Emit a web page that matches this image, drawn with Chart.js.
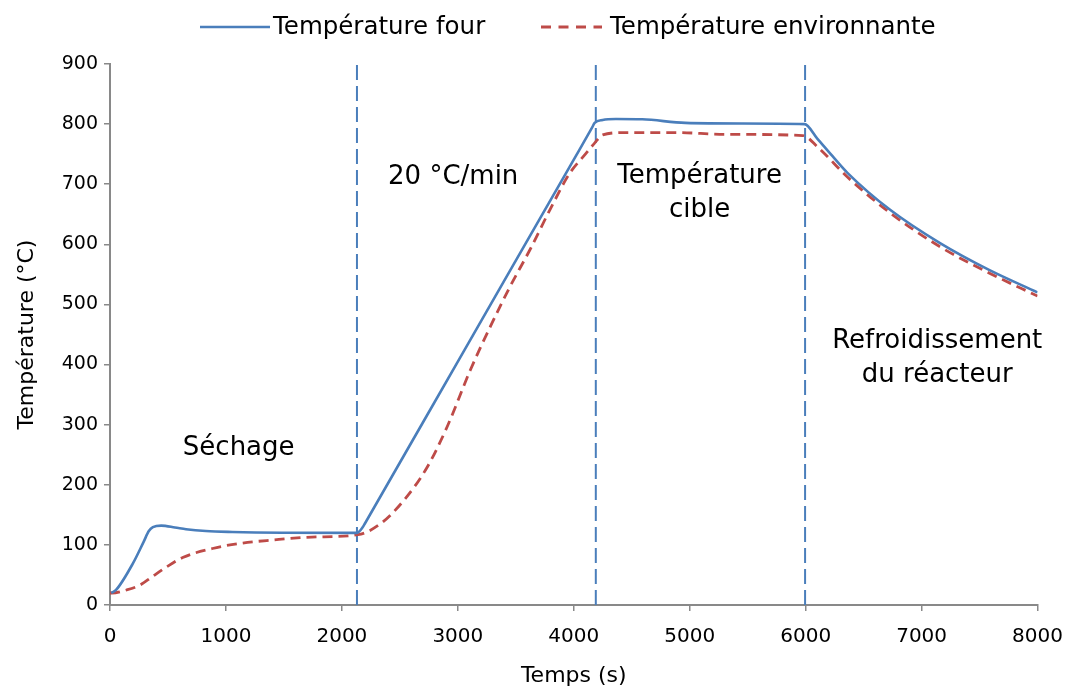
<!DOCTYPE html>
<html>
<head>
<meta charset="utf-8">
<script src="https://cdn.jsdelivr.net/npm/chart.js@4.4.1/dist/chart.umd.min.js"></script>
<style>
  html, body { margin: 0; padding: 0; background: #ffffff; }
  #wrap { width: 1077px; height: 691px; position: relative; }
</style>
</head>
<body>
<div id="wrap"><canvas id="c" width="1077" height="691"></canvas></div>
<script>
// ---- Data ----
const fourTime = [10, 52, 200, 290, 335, 370, 442, 560, 656, 827, 1055, 1483, 2130, 2182, 2200, 3000, 4000, 4160, 4180, 4249, 4363, 4591, 4962, 5447, 5990, 6100, 6230, 6360, 6731, 7159, 7586, 8000];
const fourTemp = [20, 25, 70, 105, 123, 129.5, 132, 129, 126, 123, 121.5, 120.3, 120, 130, 136, 405, 741, 795, 802, 807, 808.5, 808, 802, 801, 800, 776, 747, 719, 657, 602, 557, 520];

const envTime = [0, 15, 143, 257, 370, 485, 627, 884, 1141, 1397, 1740, 2139, 2338, 2538, 2738, 2909, 3108, 3280, 3451, 3622, 3793, 3964, 4100, 4178, 4249, 4449, 4877, 5305, 5975, 6103, 6360, 6731, 7159, 7586, 8000];
const envTemp = [20, 20, 25, 33, 48, 63, 79, 94, 103, 108, 113, 117, 136, 175, 230, 297, 391, 463, 530, 591, 657, 718, 750, 768, 782, 786, 786, 783, 781, 762, 712, 652, 596, 552, 514];

const phaseTimes = [2130, 4190, 5995];
const yRange = [0, 900];

const seriesNames = ['Température four', 'Température environnante'];
const xTitle = 'Temps (s)';
const yTitle = 'Température (°C)';

const phaseLabels = [
  { lines: ['Séchage'], x: 1110, y: 260 },
  { lines: ['20 °C/min'], x: 2960, y: 712 },
  { lines: ['Température', 'cible'], x: 5085, y: 714 },
  { lines: ['Refroidissement', 'du réacteur'], x: 7135, y: 438 }
];

// ---- Styling ----
const BLUE = '#4a7ebb';
const RED = '#be4b48';
const AXIS = '#898989';
const FONT = "'DejaVu Sans', sans-serif";

const toXY = (xs, ys) => xs.map((x, i) => ({ x: x, y: ys[i] }));

const datasets = [
  {
    label: seriesNames[0],
    data: toXY(fourTime, fourTemp),
    borderColor: BLUE,
    borderWidth: 2.6,
    pointRadius: 0,
    cubicInterpolationMode: 'monotone',
    fill: false,
    order: 1
  },
  {
    label: seriesNames[1],
    data: toXY(envTime, envTemp),
    borderColor: RED,
    borderWidth: 2.8,
    borderDash: [10, 6],
    pointRadius: 0,
    cubicInterpolationMode: 'monotone',
    fill: false,
    order: 2
  }
];
phaseTimes.forEach((t, i) => {
  datasets.push({
    label: 'phase' + i,
    data: [{ x: t, y: yRange[0] }, { x: t, y: yRange[1] }],
    borderColor: BLUE,
    borderWidth: 2,
    borderDash: [15, 6],
    pointRadius: 0,
    fill: false,
    order: 3
  });
});

const overlay = {
  id: 'overlay',
  afterDraw(chart) {
    const ctx = chart.ctx;
    const xs = chart.scales.x, ys = chart.scales.y;
    ctx.save();
    // phase labels
    ctx.fillStyle = '#000000';
    ctx.font = '26px ' + FONT;
    ctx.textAlign = 'center';
    ctx.textBaseline = 'middle';
    phaseLabels.forEach(p => {
      const px = xs.getPixelForValue(p.x);
      const py = ys.getPixelForValue(p.y);
      p.lines.forEach((line, k) => ctx.fillText(line, px, py + k * 34));
    });
    // legend
    ctx.font = '24.5px ' + FONT;
    ctx.textAlign = 'left';
    const ly = 27;
    ctx.lineCap = 'butt';
    ctx.strokeStyle = BLUE; ctx.lineWidth = 2.6; ctx.setLineDash([]);
    ctx.beginPath(); ctx.moveTo(200, ly); ctx.lineTo(270, ly); ctx.stroke();
    ctx.fillText(seriesNames[0], 273, ly + 1);
    ctx.strokeStyle = RED; ctx.lineWidth = 2.8; ctx.setLineDash([10, 7.5]);
    ctx.beginPath(); ctx.moveTo(541, ly); ctx.lineTo(602, ly); ctx.stroke();
    ctx.setLineDash([]);
    ctx.fillText(seriesNames[1], 610, ly + 1);
    ctx.restore();
  }
};

new Chart(document.getElementById('c'), {
  type: 'line',
  data: { datasets: datasets },
  options: {
    responsive: false,
    animation: false,
    devicePixelRatio: 1,
    layout: { padding: { top: 64, right: 32, left: 0, bottom: 0 } },
    plugins: {
      legend: { display: false },
      tooltip: { enabled: false }
    },
    scales: {
      x: {
        type: 'linear',
        min: 0, max: 8000,
        afterFit: s => { s.height = 86; },
        ticks: { stepSize: 1000, color: '#000', font: { family: FONT, size: 20 }, padding: 14, maxRotation: 0,
                 callback: v => String(v) },
        grid: { drawOnChartArea: false, drawTicks: true, tickLength: 6, color: AXIS, lineWidth: 1.5 },
        border: { display: true, color: AXIS, width: 2 },
        title: { display: true, text: xTitle, color: '#000', font: { family: FONT, size: 22 }, padding: { top: 2, bottom: 2 } }
      },
      y: {
        min: yRange[0], max: yRange[1],
        afterFit: s => { s.width = 110; },
        ticks: { stepSize: 100, color: '#000', font: { family: FONT, size: 19 }, padding: 6,
                 callback: v => String(v) },
        grid: { drawOnChartArea: false, drawTicks: true, tickLength: 6, color: AXIS, lineWidth: 1.5 },
        border: { display: true, color: AXIS, width: 2 },
        title: { display: true, text: yTitle, color: '#000', font: { family: FONT, size: 22 }, padding: { top: 14, bottom: 0 } }
      }
    }
  },
  plugins: [overlay]
});
</script>
</body>
</html>
